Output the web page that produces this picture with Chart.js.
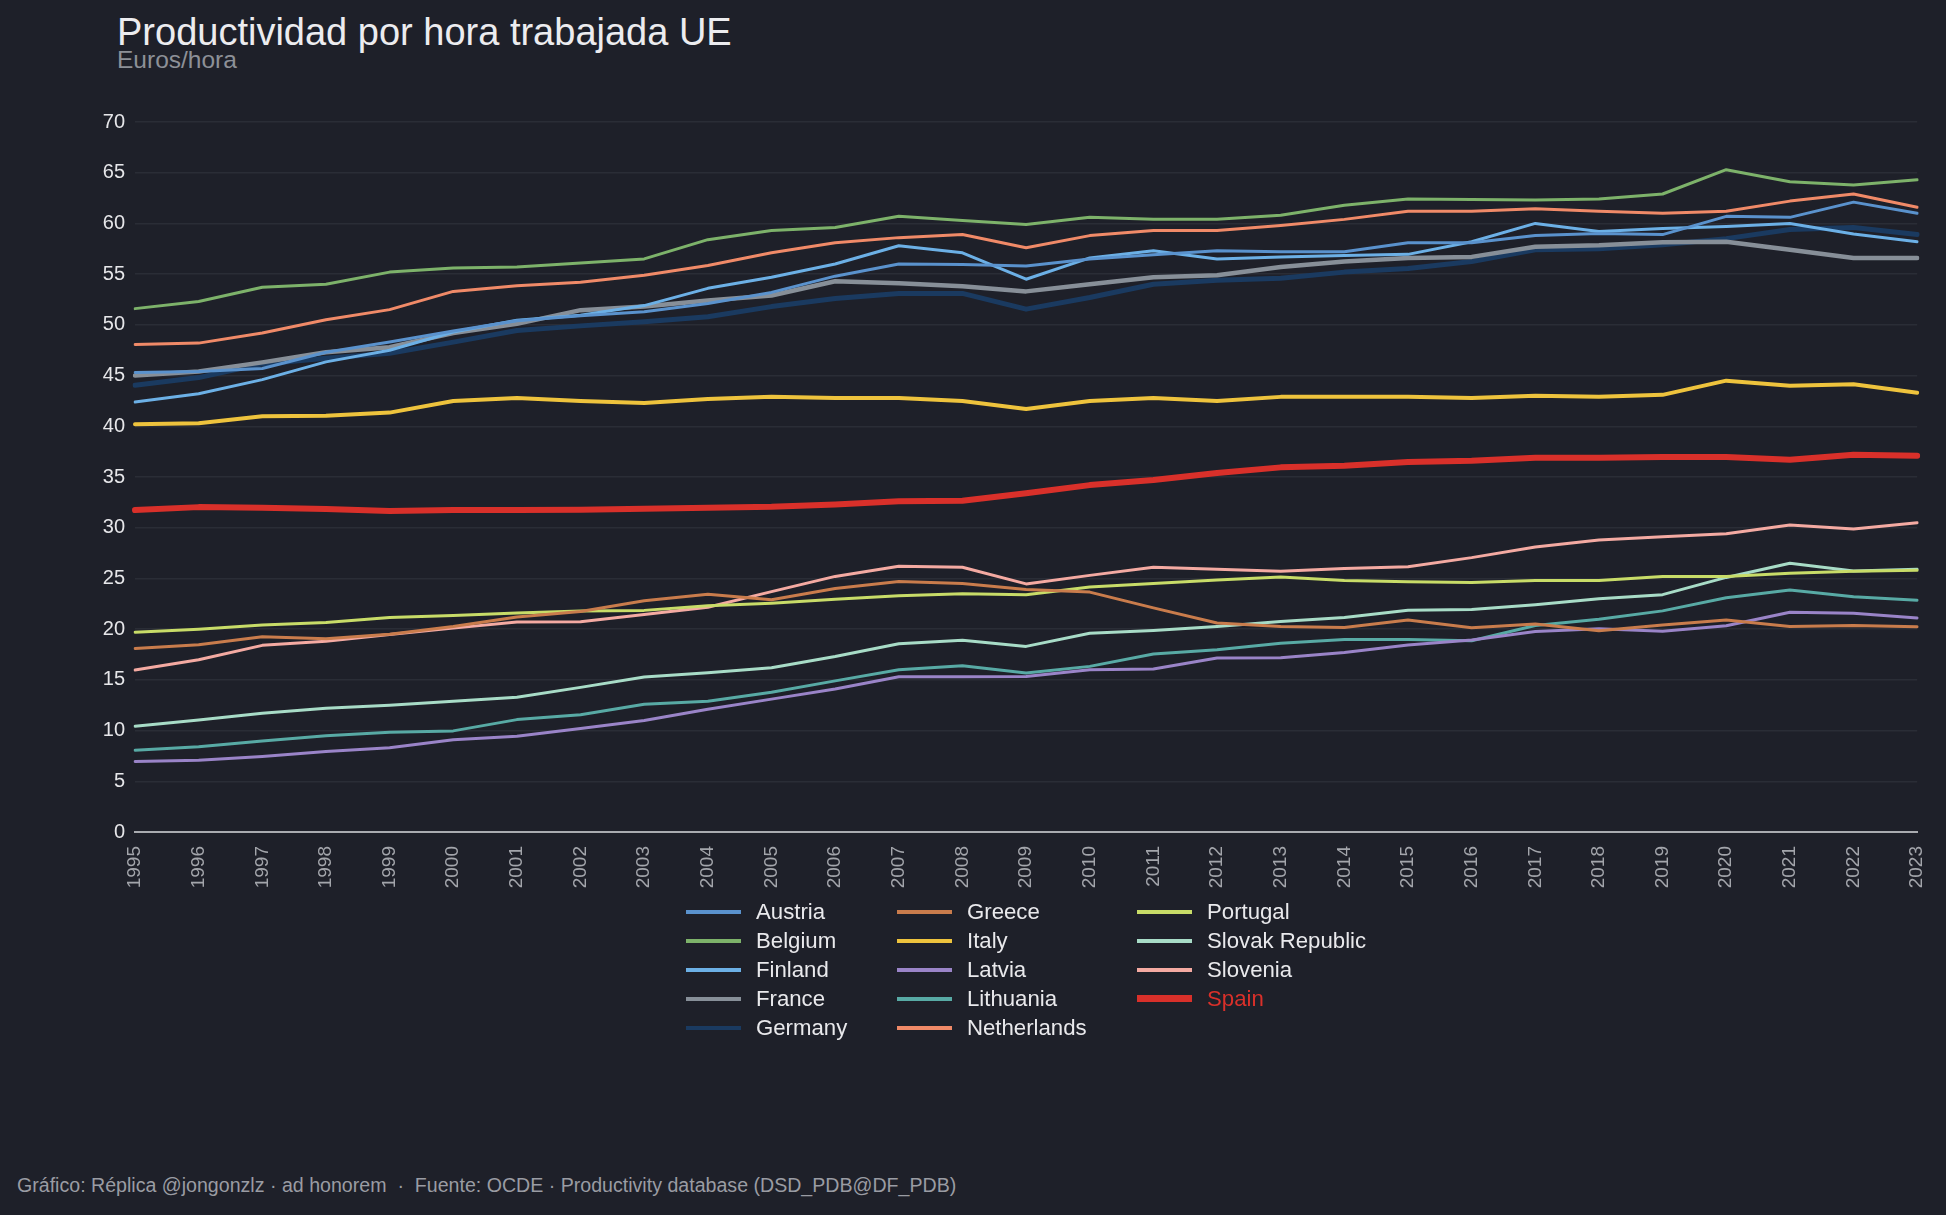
<!DOCTYPE html>
<html lang="es">
<head>
<meta charset="utf-8">
<title>Productividad por hora trabajada UE</title>
<script src="https://cdn.jsdelivr.net/npm/chart.js@4.4.1/dist/chart.umd.min.js"></script>
<style>
  html, body {
    margin: 0;
    padding: 0;
    background: #1e2029;
    width: 1946px;
    height: 1215px;
    overflow: hidden;
    font-family: "Liberation Sans", Arial, sans-serif;
  }
  #title {
    position: absolute;
    left: 117px;
    top: 13px;
    font-size: 38px;
    line-height: 1;
    color: #ececef;
  }
  #subtitle {
    position: absolute;
    left: 117px;
    top: 48px;
    font-size: 24.5px;
    line-height: 1;
    color: #8d9097;
  }
  #chart {
    position: absolute;
    left: 0;
    top: 0;
  }
  #legend {
    position: absolute;
    left: 686px;
    top: 897px;
    display: grid;
    grid-template-rows: repeat(5, 29px);
    grid-template-columns: 211px 240px 260px;
    grid-auto-flow: column;
    font-size: 22.2px;
    color: #e9e9ec;
  }
  .item {
    display: flex;
    align-items: center;
    white-space: nowrap;
  }
  .swatch {
    width: 55px;
    margin-right: 15px;
  }
  #footer {
    position: absolute;
    left: 17px;
    top: 1176px;
    font-size: 19.6px;
    line-height: 1;
    color: #9a9ca3;
    white-space: pre;
  }
</style>
</head>
<body>
<div id="title">Productividad por hora trabajada UE</div>
<div id="subtitle">Euros/hora</div>
<canvas id="chart" width="1946" height="900"></canvas>
<div id="legend"></div>
<div id="footer">Gráfico: Réplica @jongonzlz · ad honorem  ·  Fuente: OCDE · Productivity database (DSD_PDB@DF_PDB)</div>

<script>
// --- data (euros por hora trabajada) ---
const years = ["1995", "1996", "1997", "1998", "1999", "2000", "2001", "2002", "2003", "2004",
  "2005", "2006", "2007", "2008", "2009", "2010", "2011", "2012", "2013", "2014",
  "2015", "2016", "2017", "2018", "2019", "2020", "2021", "2022", "2023"];

const austria = [45.3, 45.4, 45.7, 47.3, 48.3, 49.4, 50.4, 50.9, 51.3, 52.1, 53.2, 54.8, 56.0, 55.95, 55.8,
  56.5, 56.9, 57.3, 57.2, 57.2, 58.1, 58.1, 58.8, 59.0, 58.9, 60.7, 60.6, 62.1, 61.0];
const belgium = [51.6, 52.3, 53.7, 54.0, 55.2, 55.6, 55.7, 56.1, 56.5, 58.4, 59.3, 59.6, 60.7, 60.3, 59.9,
  60.6, 60.4, 60.4, 60.8, 61.8, 62.4, 62.35, 62.3, 62.4, 62.9, 65.3, 64.1, 63.8, 64.3];
const finland = [42.4, 43.2, 44.6, 46.35, 47.5, 49.3, 50.45, 50.95, 51.9, 53.6, 54.7, 56.0, 57.8, 57.1, 54.5,
  56.6, 57.3, 56.5, 56.7, 56.85, 56.95, 58.2, 60.0, 59.2, 59.5, 59.7, 60.0, 58.95, 58.2];
const france = [45.0, 45.4, 46.3, 47.3, 47.8, 49.2, 50.1, 51.45, 51.8, 52.4, 52.9, 54.3, 54.1, 53.8, 53.3,
  54.0, 54.7, 54.9, 55.7, 56.25, 56.6, 56.7, 57.7, 57.85, 58.15, 58.2, 57.4, 56.6, 56.6];
const germany = [44.05, 44.8, 46.15, 46.7, 47.2, 48.3, 49.45, 49.9, 50.3, 50.8, 51.8, 52.6, 53.1, 53.1, 51.55,
  52.7, 54.0, 54.4, 54.6, 55.2, 55.55, 56.25, 57.4, 57.5, 57.9, 58.5, 59.4, 59.6, 58.9];
const greece = [18.1, 18.46, 19.25, 19.05, 19.5, 20.26, 21.2, 21.74, 22.8, 23.44, 22.9, 24.0, 24.7, 24.5, 23.9,
  23.65, 22.1, 20.6, 20.26, 20.16, 20.9, 20.13, 20.5, 19.84, 20.4, 20.9, 20.26, 20.36, 20.23];
const italy = [40.2, 40.3, 41.0, 41.05, 41.35, 42.5, 42.8, 42.5, 42.3, 42.7, 42.9, 42.8, 42.8, 42.5, 41.7,
  42.5, 42.8, 42.5, 42.9, 42.9, 42.9, 42.8, 43.0, 42.9, 43.1, 44.5, 44.0, 44.15, 43.3];
const latvia = [6.95, 7.08, 7.44, 7.93, 8.3, 9.1, 9.44, 10.2, 11.0, 12.1, 13.1, 14.1, 15.3, 15.3, 15.34,
  16.0, 16.07, 17.15, 17.18, 17.7, 18.43, 18.92, 19.77, 20.03, 19.8, 20.33, 21.67, 21.57, 21.1];
const lithuania = [8.07, 8.4, 8.98, 9.48, 9.84, 9.97, 11.08, 11.57, 12.6, 12.9, 13.77, 14.9, 16.0, 16.4, 15.67,
  16.33, 17.54, 17.97, 18.6, 18.98, 18.98, 18.85, 20.36, 20.98, 21.8, 23.1, 23.87, 23.2, 22.85];
const netherlands = [48.06, 48.2, 49.2, 50.5, 51.5, 53.3, 53.85, 54.2, 54.9, 55.85, 57.1, 58.1, 58.6, 58.9, 57.6,
  58.8, 59.3, 59.3, 59.8, 60.4, 61.2, 61.2, 61.45, 61.2, 61.0, 61.2, 62.2, 62.9, 61.6];
const portugal = [19.7, 20.0, 20.4, 20.65, 21.15, 21.35, 21.6, 21.8, 21.85, 22.3, 22.56, 22.95, 23.3, 23.5, 23.4,
  24.15, 24.5, 24.85, 25.15, 24.8, 24.67, 24.6, 24.8, 24.8, 25.2, 25.2, 25.5, 25.7, 25.8];
const slovakia = [10.43, 11.05, 11.7, 12.2, 12.5, 12.9, 13.28, 14.26, 15.28, 15.7, 16.2, 17.3, 18.56, 18.9, 18.3,
  19.6, 19.87, 20.26, 20.75, 21.15, 21.87, 21.93, 22.4, 23.0, 23.4, 25.1, 26.5, 25.74, 25.9];
const slovenia = [15.97, 16.98, 18.4, 18.8, 19.48, 20.1, 20.7, 20.72, 21.44, 22.16, 23.7, 25.2, 26.2, 26.1, 24.46,
  25.3, 26.1, 25.9, 25.7, 25.97, 26.16, 27.05, 28.1, 28.8, 29.1, 29.4, 30.26, 29.87, 30.5];
const spain = [31.74, 32.03, 31.97, 31.84, 31.64, 31.74, 31.74, 31.77, 31.87, 31.98, 32.06, 32.3, 32.6, 32.65, 33.4,
  34.2, 34.7, 35.4, 35.95, 36.1, 36.47, 36.6, 36.9, 36.9, 36.96, 36.96, 36.7, 37.2, 37.1];

const countryNames = ["Austria", "Belgium", "Finland", "France", "Germany", "Greece", "Italy",
  "Latvia", "Lithuania", "Netherlands", "Portugal", "Slovak Republic", "Slovenia", "Spain"];
const countryValues = [austria, belgium, finland, france, germany, greece, italy,
  latvia, lithuania, netherlands, portugal, slovakia, slovenia, spain];

const yTicks = [0, 5, 10, 15, 20, 25, 30, 35, 40, 45, 50, 55, 60, 65, 70];

// --- styles ---
const colors = {
  "Austria": "#5a92cd",
  "Belgium": "#7db26a",
  "Finland": "#6cb0e6",
  "France": "#878f98",
  "Germany": "#1a3a60",
  "Greece": "#c97c4c",
  "Italy": "#eec33d",
  "Latvia": "#9a84c8",
  "Lithuania": "#58aaa5",
  "Netherlands": "#f08a68",
  "Portugal": "#c8dc68",
  "Slovak Republic": "#a8dcc7",
  "Slovenia": "#f4aaa2",
  "Spain": "#d9302a",
};
const widths = { "Germany": 5, "France": 4.5, "Italy": 4, "Spain": 6 };

const datasets = countryNames.map((name, i) => ({
  label: name,
  data: countryValues[i],
  borderColor: colors[name],
  backgroundColor: colors[name],
  borderWidth: widths[name] || 3,
  pointRadius: 0,
  pointHoverRadius: 0,
  tension: 0,
  fill: false,
  borderJoinStyle: "round",
  borderCapStyle: "round",
  order: name === "Spain" ? -1 : (name === "Germany" ? 2 : 1),
}));

const ctx = document.getElementById("chart").getContext("2d");
const chart = new Chart(ctx, {
  type: "line",
  data: { labels: years, datasets: datasets },
  options: {
    responsive: false,
    animation: false,
    devicePixelRatio: 1,
    layout: { padding: { left: 0, top: 122, right: 27, bottom: 0 } },
    plugins: {
      legend: { display: false }, // legend is html below
      tooltip: { enabled: false },
    },
    scales: {
      x: {
        offset: false,
        grid: { display: false },
        border: { display: true, color: "#a9abb0", width: 2 },
        ticks: {
          color: "#a3a5ab",
          font: { family: "Liberation Sans", size: 19 },
          minRotation: 90,
          maxRotation: 90,
          autoSkip: false,
          padding: 6,
        },
        afterFit: (scale) => { scale.height = 68; },
      },
      y: {
        min: 0,
        max: 70,
        afterBuildTicks: (scale) => { scale.ticks = yTicks.map((v) => ({ value: v })); },
        grid: { color: "#2a2d36", lineWidth: 1.5, drawTicks: false },
        border: { display: false },
        ticks: {
          color: "#e6e6e9",
          font: { family: "Liberation Sans", size: 20 },
          padding: 10,
        },
        afterFit: (scale) => { scale.width = 135; },
      },
    },
  },
});

// html legend, 5 rows per column
const legendEl = document.getElementById("legend");
chart.data.datasets.forEach((ds) => {
  const item = document.createElement("div");
  item.className = "item";
  const sw = document.createElement("span");
  sw.className = "swatch";
  sw.style.height = (ds.label === "Spain" ? 7 : 4) + "px";
  sw.style.background = ds.borderColor;
  const txt = document.createElement("span");
  txt.textContent = ds.label;
  if (ds.label === "Spain") txt.style.color = ds.borderColor;
  item.appendChild(sw);
  item.appendChild(txt);
  legendEl.appendChild(item);
});
</script>
</body>
</html>
